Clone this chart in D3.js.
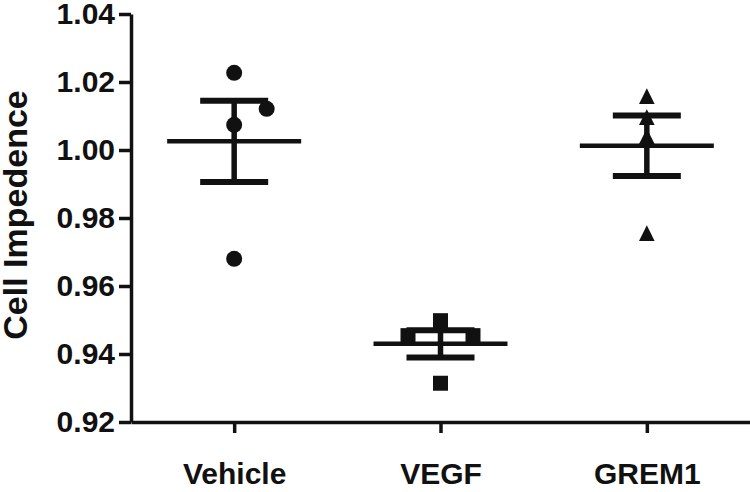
<!DOCTYPE html>
<html>
<head>
<meta charset="utf-8">
<script src="https://cdn.jsdelivr.net/npm/d3@7"></script>
<style>
  html, body { margin: 0; padding: 0; background: #fff; }
  svg { display: block; }
  text { font-family: "Liberation Sans", Arial, Helvetica, sans-serif; font-weight: bold; fill: #111; }
</style>
</head>
<body>
<svg id="chart" width="750" height="492"></svg>
<script>
// ---- data ----
const categories = ["Vehicle", "VEGF", "GREM1"];
const vehicleValues = [1.0227, 1.0121, 1.0074, 0.9680];
const vegfValues    = [0.9498, 0.9454, 0.9454, 0.9314];
const grem1Values   = [1.0158, 1.0096, 1.0040, 0.9755];
// scatter slot of each point (GraphPad-style horizontal spreading of overlapping points)
const vehicleSlots = [0, 1, 0, 0];
const vegfSlots    = [0, -1, 1, 0];
const grem1Slots   = [0, 0, 0, 0];
const yTicks = [0.92, 0.94, 0.96, 0.98, 1.00, 1.02, 1.04];
const yTitle = "Cell Impedence";

// ---- layout ----
const plotLeft = 131, plotRight = 750, plotTop = 14, plotBottom = 422;
const slotWidth = 32.5;
const meanHalf = 67, capHalf = 34;
const ink = "#111";

const groups = [
  { name: categories[0], values: vehicleValues, slots: vehicleSlots, shape: "circle" },
  { name: categories[1], values: vegfValues,    slots: vegfSlots,    shape: "square" },
  { name: categories[2], values: grem1Values,   slots: grem1Slots,   shape: "triangle" }
];
groups.forEach(g => {
  g.mean = d3.mean(g.values);
  g.sem = d3.deviation(g.values) / Math.sqrt(g.values.length);
});

const svg = d3.select("#chart");

const x = d3.scalePoint().domain(categories).range([plotLeft, plotRight]).padding(0.5);
const y = d3.scaleLinear().domain([0.92, 1.04]).range([plotBottom, plotTop]);

// ---- axes ----
const yAxis = svg.append("g")
  .attr("transform", `translate(${plotLeft},0)`)
  .call(d3.axisLeft(y).tickValues(yTicks).tickFormat(d3.format(".2f"))
        .tickSize(12).tickSizeOuter(0).tickPadding(4));
yAxis.select(".domain").attr("stroke", ink).attr("stroke-width", 3.5);
yAxis.selectAll(".tick line").attr("stroke", ink).attr("stroke-width", 3.5);
yAxis.selectAll(".tick text").attr("font-size", 30).attr("fill", ink)
  .style("font-family", '"Liberation Sans", Arial, sans-serif').style("font-weight", "bold");

const xAxis = svg.append("g")
  .attr("transform", `translate(0,${plotBottom})`)
  .call(d3.axisBottom(x).tickSize(11).tickSizeOuter(0));
xAxis.select(".domain").attr("stroke", ink).attr("stroke-width", 3.5);
xAxis.selectAll(".tick line").attr("stroke", ink).attr("stroke-width", 3.5);
xAxis.selectAll(".tick text").attr("font-size", 30).attr("fill", ink)
  .attr("dy", null).attr("y", 62)
  .style("font-family", '"Liberation Sans", Arial, sans-serif').style("font-weight", "bold");

// y title
svg.append("text")
  .attr("transform", `translate(27,215) rotate(-90)`)
  .attr("text-anchor", "middle")
  .attr("font-size", 34)
  .text(yTitle);

// ---- points ----
const symbolPath = {
  circle: d3.symbol().type(d3.symbolCircle).size(Math.PI * 8 * 8)(),
  square: d3.symbol().type(d3.symbolSquare).size(15 * 15)(),
  triangle: "M0,-8L7.8,7.6L-7.8,7.6Z"
};

const gp = svg.append("g");
groups.forEach(g => {
  gp.selectAll(null)
    .data(g.values.map((v, i) => ({ v, s: g.slots[i] })))
    .join("path")
    .attr("d", symbolPath[g.shape])
    .attr("transform", d => `translate(${x(g.name) + d.s * slotWidth},${y(d.v)})`)
    .attr("fill", ink);
});

// ---- mean & SEM ----
const gm = svg.append("g").attr("stroke", ink).attr("fill", "none");
groups.forEach(g => {
  const cx = x(g.name);
  gm.append("line")
    .attr("x1", cx - meanHalf).attr("x2", cx + meanHalf)
    .attr("y1", y(g.mean)).attr("y2", y(g.mean))
    .attr("stroke-width", 4.5);
  gm.append("line")
    .attr("x1", cx).attr("x2", cx)
    .attr("y1", y(g.mean + g.sem)).attr("y2", y(g.mean - g.sem))
    .attr("stroke-width", 5.5);
  [g.mean + g.sem, g.mean - g.sem].forEach(v => {
    gm.append("line")
      .attr("x1", cx - capHalf).attr("x2", cx + capHalf)
      .attr("y1", y(v)).attr("y2", y(v))
      .attr("stroke-width", 6);
  });
});
</script>
</body>
</html>
